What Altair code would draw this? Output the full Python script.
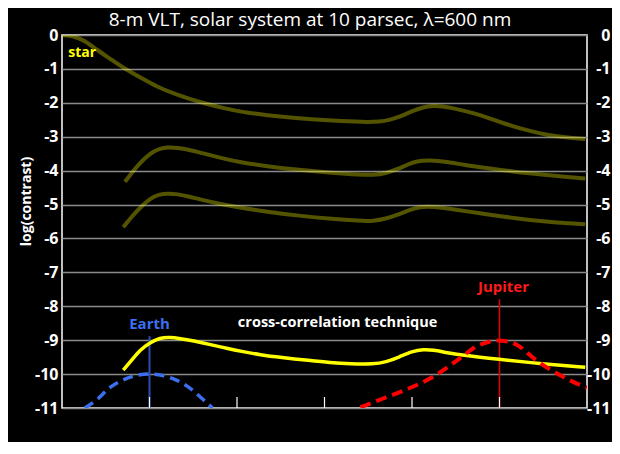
import altair as alt
import pandas as pd

# ---------------- data ----------------
star_x = [0.0, 0.013, 0.025, 0.04, 0.055, 0.07, 0.09, 0.108, 0.127, 0.146, 0.165, 0.184, 0.203,
          0.234, 0.27, 0.31, 0.345, 0.363, 0.375, 0.386, 0.40, 0.413, 0.424, 0.435, 0.447, 0.462,
          0.478, 0.497, 0.516, 0.535, 0.554, 0.575, 0.598]
star_y = [0.0, -0.03, -0.15, -0.44, -0.7, -0.97, -1.26, -1.52, -1.72, -1.89, -2.03, -2.15, -2.26,
          -2.37, -2.46, -2.53, -2.57, -2.56, -2.5, -2.41, -2.25, -2.12, -2.09, -2.1, -2.16, -2.25,
          -2.36, -2.53, -2.7, -2.83, -2.95, -3.02, -3.07]

mid_x = [0.072, 0.08, 0.089, 0.097, 0.104, 0.112, 0.12, 0.132, 0.146, 0.158, 0.184, 0.203, 0.234,
         0.27, 0.31, 0.34, 0.356, 0.37, 0.383, 0.395, 0.405, 0.42, 0.44, 0.459, 0.49, 0.516, 0.55,
         0.575, 0.598]
mid_y = [-4.33, -4.05, -3.78, -3.58, -3.44, -3.35, -3.31, -3.32, -3.39, -3.47, -3.64, -3.75, -3.87,
         -3.98, -4.07, -4.12, -4.13, -4.08, -3.96, -3.82, -3.72, -3.69, -3.74, -3.83, -3.94, -4.03,
         -4.12, -4.18, -4.23]

low_x = [0.07, 0.08, 0.089, 0.097, 0.104, 0.112, 0.12, 0.132, 0.146, 0.158, 0.184, 0.203, 0.234,
         0.27, 0.31, 0.34, 0.356, 0.37, 0.383, 0.395, 0.409, 0.424, 0.45, 0.478, 0.505, 0.535,
         0.565, 0.598]
low_y = [-5.67, -5.35, -5.1, -4.91, -4.77, -4.7, -4.67, -4.69, -4.77, -4.85, -5.0, -5.09, -5.21,
         -5.33, -5.43, -5.48, -5.49, -5.42, -5.31, -5.18, -5.06, -5.06, -5.15, -5.26, -5.36, -5.46,
         -5.53, -5.58]

cc_x = [0.07, 0.08, 0.089, 0.1, 0.112, 0.123, 0.135, 0.15, 0.17, 0.188, 0.207, 0.226, 0.25, 0.283,
        0.306, 0.33, 0.356, 0.37, 0.386, 0.4, 0.413, 0.424, 0.44, 0.459, 0.497, 0.55, 0.598]
cc_y = [-9.88, -9.58, -9.29, -9.08, -8.93, -8.91, -8.95, -9.02, -9.13, -9.24, -9.34, -9.43, -9.51,
        -9.6, -9.66, -9.7, -9.71, -9.65, -9.49, -9.33, -9.27, -9.29, -9.37, -9.45, -9.56, -9.7, -9.8]

earth_x = [0.026, 0.04, 0.055, 0.07, 0.085, 0.1, 0.115, 0.13, 0.145, 0.16, 0.172]
earth_y = [-11.0, -10.75, -10.39, -10.17, -10.04, -10.0, -10.04, -10.17, -10.39, -10.72, -11.0]

jup_x = [0.341, 0.367, 0.394, 0.424, 0.435, 0.447, 0.459, 0.47, 0.485, 0.497, 0.51, 0.52, 0.542,
         0.569, 0.595, 0.6]
jup_y = [-10.98, -10.72, -10.45, -10.08, -9.9, -9.68, -9.45, -9.24, -9.07, -9.01, -9.04, -9.14,
         -9.59, -10.03, -10.35, -10.4]

planet_names = ["Earth", "Jupiter"]
planet_sep = [0.1, 0.5]
planet_line_top = [-8.88, -7.79]
planet_label_y = [-8.52, -7.43]

x_ticks = [0.0, 0.1, 0.2, 0.3, 0.4, 0.5, 0.6]
inner_ticks = [0.1, 0.2, 0.3, 0.4, 0.5]
y_ticks = list(range(-11, 1))

title_text = "8-m VLT, solar system at 10 parsec, λ=600 nm"
x_title = "separation from central star (arcsec)"
y_title = "log(contrast)"

# ---------------- chart ----------------
W, H = 525, 373
FONT = "Open Sans"

xs = alt.Scale(domain=[0, 0.6], nice=False, zero=False)
ys = alt.Scale(domain=[-11, 0], nice=False, zero=False)


def line(x, y, color, width, opacity=1.0, dash=None, ax=None, ay=None, interp="basis"):
    df = pd.DataFrame({"x": x, "y": y})
    kw = dict(color=color, strokeWidth=width, opacity=opacity, interpolate=interp, clip=True)
    if dash is not None:
        kw["strokeDash"] = dash
    return alt.Chart(df).mark_line(**kw).encode(
        x=alt.X("x:Q", scale=xs, axis=ax),
        y=alt.Y("y:Q", scale=ys, axis=ay),
    )


left_axis = alt.Axis(
    orient="left", values=y_ticks, labelExpr="'' + datum.value", grid=True, gridColor="#8a8a8a",
    gridWidth=1.5, domain=False, ticks=False, tickSize=0, labelColor="white", labelFont=FONT,
    labelFontSize=16, labelFontWeight="bold", labelPadding=4,
    title=y_title, titleColor="white", titleFont=FONT, titleFontSize=14, titleFontWeight="bold",
    titleAngle=-90, titleX=-36, titleY=166, titleAlign="center", titleBaseline="middle",
)
right_axis = alt.Axis(
    orient="right", values=y_ticks, labelExpr="'' + datum.value", grid=False, domain=False,
    ticks=False, tickSize=0, labelColor="white", labelFont=FONT, labelFontSize=16,
    labelFontWeight="bold", labelPadding=23, labelAlign="right", title=None,
)
bottom_axis = alt.Axis(
    orient="bottom", values=x_ticks, format=".1f", grid=False, domain=False, ticks=False, tickSize=0,
    labelColor="white", labelFont=FONT, labelFontSize=16, labelFontWeight="bold", labelPadding=3,
    labelFlush=False,
    title=x_title, titleColor="white", titleFont=FONT, titleFontSize=13.5, titleFontWeight="bold",
    titleX=252, titleY=32, titleAlign="center", titleBaseline="middle",
)

olive = "#ffff00"
l_star = line(star_x, star_y, olive, 4, 0.33, ax=bottom_axis, ay=left_axis)
l_mid = line(mid_x, mid_y, olive, 4, 0.33)
l_low = line(low_x, low_y, olive, 4, 0.33)

planets = pd.DataFrame({"name": planet_names, "x": planet_sep, "top": planet_line_top,
                        "ly": planet_label_y, "bottom": [-11, -11]})
earth_rule = alt.Chart(planets[planets["name"] == "Earth"]).mark_rule(
    color="#2a4db5", strokeWidth=2).encode(
    x=alt.X("x:Q", scale=xs, axis=None), y=alt.Y("top:Q", scale=ys, axis=None), y2="bottom:Q")
jup_rule = alt.Chart(planets[planets["name"] == "Jupiter"]).mark_rule(
    color="#e00000", strokeWidth=1.5).encode(
    x=alt.X("x:Q", scale=xs, axis=None), y=alt.Y("top:Q", scale=ys, axis=None), y2="bottom:Q")

l_cc = line(cc_x, cc_y, "#ffff00", 3.5, ay=right_axis)
l_earth = line(earth_x, earth_y, "#3b6ff0", 3.5, dash=[10, 6], interp="monotone")
l_jup = line(jup_x, jup_y, "#ff0000", 4, dash=[11, 6], interp="monotone")

ticks = alt.Chart(pd.DataFrame({"x": inner_ticks})).mark_rule(
    color="white", strokeWidth=1.2).encode(
    x=alt.X("x:Q", scale=xs, axis=None), y=alt.value(H - 11), y2=alt.value(H))

earth_lbl = alt.Chart(planets[planets["name"] == "Earth"]).mark_text(
    color="#3b6ff0", font=FONT, fontSize=15, fontWeight="bold", baseline="middle").encode(
    x=alt.X("x:Q", scale=xs, axis=None), y=alt.Y("ly:Q", scale=ys, axis=None), text="name:N")
jup_lbl = alt.Chart(planets[planets["name"] == "Jupiter"]).mark_text(
    color="#ff1a1a", font=FONT, fontSize=15, fontWeight="bold", baseline="middle", dx=4).encode(
    x=alt.X("x:Q", scale=xs, axis=None), y=alt.Y("ly:Q", scale=ys, axis=None), text="name:N")

notes = pd.DataFrame({"t": ["star", "cross-correlation technique"], "x": [0.023, 0.315],
                      "y": [-0.53, -8.5]})
star_lbl = alt.Chart(notes.iloc[[0]]).mark_text(
    color="#ffff00", font=FONT, fontSize=14, fontWeight="bold", baseline="middle").encode(
    x=alt.X("x:Q", scale=xs, axis=None), y=alt.Y("y:Q", scale=ys, axis=None), text="t:N")
cc_lbl = alt.Chart(notes.iloc[[1]]).mark_text(
    color="white", font=FONT, fontSize=14.5, fontWeight="bold", baseline="middle").encode(
    x=alt.X("x:Q", scale=xs, axis=None), y=alt.Y("y:Q", scale=ys, axis=None), text="t:N")

title_lbl = alt.Chart(pd.DataFrame({"t": [title_text]})).mark_text(
    color="white", font=FONT, fontSize=19, fontWeight="normal", baseline="middle",
    align="center").encode(x=alt.value(248), y=alt.value(-15), text="t:N")

chart = alt.layer(
    l_star, l_mid, l_low, earth_rule, jup_rule, l_cc, l_earth, l_jup, ticks,
    earth_lbl, jup_lbl, star_lbl, cc_lbl, title_lbl,
).resolve_axis(y="independent").properties(
    width=W, height=H,
    autosize=alt.AutoSizeParams(type="none"),
    padding={"left": 54, "top": 27, "right": 25, "bottom": 34},
    background="black",
).configure_view(stroke="white", strokeWidth=1.5)

chart.save("out.html", embed_options={"renderer": "svg", "actions": False})
